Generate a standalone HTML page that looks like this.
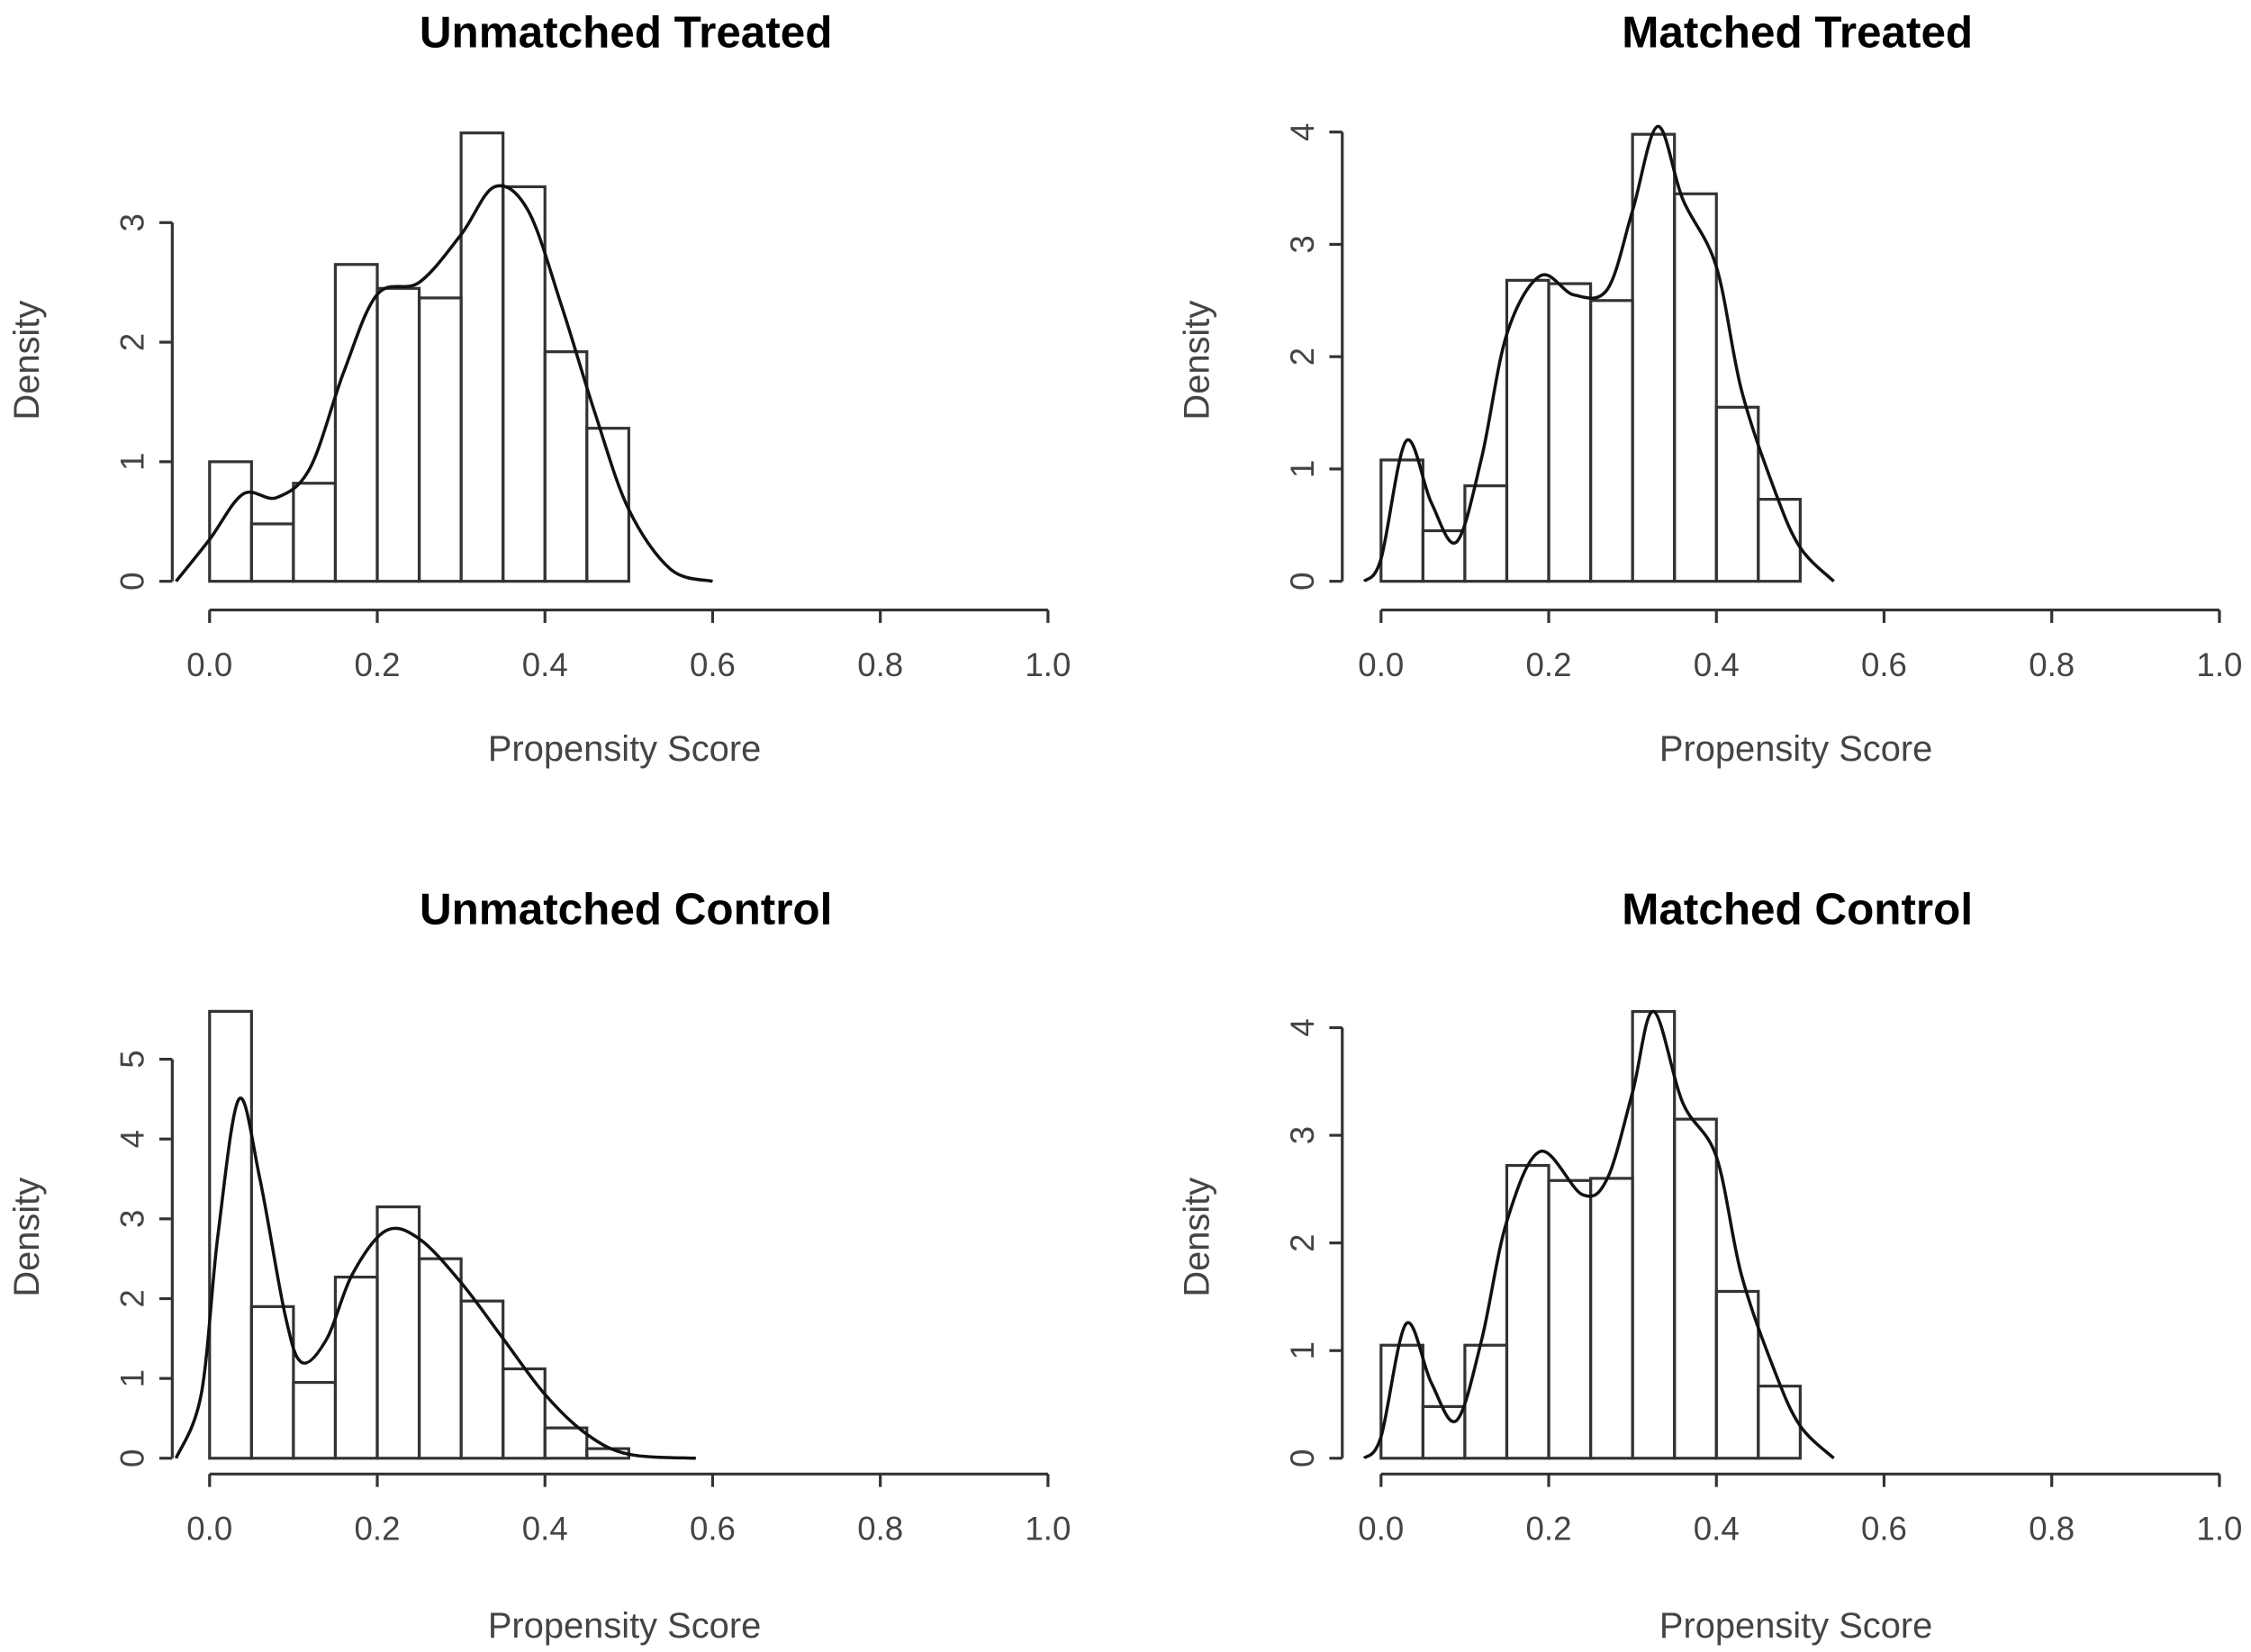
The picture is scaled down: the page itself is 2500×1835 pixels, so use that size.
<!DOCTYPE html>
<html><head><meta charset="utf-8"><style>
html,body{margin:0;padding:0;background:#fff;}
svg{display:block;}
text{font-family:"Liberation Sans",Arial,sans-serif;fill:#444;}
.t{font-weight:bold;fill:#000;font-size:31px;}
</style></head><body>
<svg id="s" width="2500" height="1835" viewBox="0 0 1568 1151" preserveAspectRatio="none" xmlns="http://www.w3.org/2000/svg"></svg>
<script>
const svg=document.getElementById('s');
let out='';
function panel(o){
 const X=v=>o.x0+v*584, Y=v=>o.y0-v*o.sy;
 const st='stroke="#333" stroke-width="2" fill="none"';
 out+=`<line x1="${X(0)}" y1="${o.ax}" x2="${X(1)}" y2="${o.ax}" ${st}/>`;
 for(let i=0;i<=5;i++){const v=i*0.2;out+=`<line x1="${X(v)}" y1="${o.ax}" x2="${X(v)}" y2="${o.ax+9}" ${st}/><text x="${X(v)}" y="${o.ax+46}" font-size="23" text-anchor="middle">${v.toFixed(1)}</text>`;}
 out+=`<line x1="${o.yx}" y1="${Y(0)}" x2="${o.yx}" y2="${Y(o.ym)}" ${st}/>`;
 for(let i=0;i<=o.ym;i++){out+=`<line x1="${o.yx}" y1="${Y(i)}" x2="${o.yx-9}" y2="${Y(i)}" ${st}/><text transform="translate(${o.yx-20},${Y(i)}) rotate(-90)" font-size="23" text-anchor="middle">${i}</text>`;}
 out+=`<text transform="translate(${o.yx-93},${o.dy}) rotate(-90)" font-size="25" text-anchor="middle">Density</text>`;
 out+=`<text x="${X(0.5)-3}" y="${o.ly}" font-size="25" text-anchor="middle">Propensity Score</text>`;
 out+=`<text class="t" x="${X(0.5)-2}" y="${o.ty}" text-anchor="middle">${o.title}</text>`;
 o.bars.forEach((h,i)=>{out+=`<rect x="${X(i*0.05)}" y="${Y(h)}" width="29.2" height="${h*o.sy}" ${st}/>`;});
 const p=o.c.map(a=>[X(a[0]),Y(a[1])]);
 let d=`M${p[0][0]},${p[0][1]}`;
 for(let i=0;i<p.length-1;i++){const p0=p[Math.max(0,i-1)],p1=p[i],p2=p[i+1],p3=p[Math.min(p.length-1,i+2)];
  d+=` C${p1[0]+(p2[0]-p0[0])/6},${p1[1]+(p2[1]-p0[1])/6} ${p2[0]-(p3[0]-p1[0])/6},${p2[1]-(p3[1]-p1[1])/6} ${p2[0]},${p2[1]}`;}
 out+=`<path d="${d}" stroke="#111" stroke-width="2.2" fill="none"/>`;
}
panel({x0:146,y0:405,sy:83.3,ax:425,yx:120,ym:3,ty:33,ly:530,dy:251,title:"Unmatched Treated",
 bars:[1.0,0.48,0.82,2.65,2.45,2.37,3.75,3.3,1.92,1.28],
 c:[[-0.04,0],[0,0.35],[0.04,0.73],[0.08,0.7],[0.12,0.95],[0.16,1.75],[0.2,2.4],[0.25,2.5],[0.3,2.9],[0.34,3.3],[0.38,3.1],[0.42,2.3],[0.46,1.4],[0.5,0.6],[0.55,0.1],[0.6,0]]});
panel({x0:962,y0:405,sy:78.25,ax:425,yx:935,ym:4,ty:33,ly:530,dy:251,title:"Matched Treated",
 bars:[1.08,0.45,0.85,2.68,2.65,2.5,3.98,3.45,1.55,0.73],
 c:[[-0.02,0],[0,0.2],[0.03,1.25],[0.06,0.7],[0.09,0.35],[0.12,1.1],[0.15,2.2],[0.19,2.72],[0.23,2.55],[0.27,2.6],[0.3,3.3],[0.33,4.05],[0.36,3.4],[0.4,2.8],[0.43,1.7],[0.47,0.8],[0.5,0.3],[0.54,0]]});
panel({x0:146,y0:1016,sy:55.6,ax:1027,yx:120,ym:5,ty:644,ly:1141,dy:862,title:"Unmatched Control",
 bars:[5.6,1.9,0.95,2.27,3.15,2.5,1.97,1.12,0.38,0.12],
 c:[[-0.04,0],[-0.01,0.8],[0.01,2.8],[0.035,4.5],[0.06,3.5],[0.09,1.8],[0.11,1.2],[0.14,1.5],[0.17,2.3],[0.21,2.85],[0.25,2.75],[0.3,2.2],[0.35,1.5],[0.4,0.8],[0.45,0.3],[0.5,0.05],[0.58,0]]});
panel({x0:962,y0:1016,sy:75,ax:1027,yx:935,ym:4,ty:644,ly:1141,dy:862,title:"Matched Control",
 bars:[1.05,0.48,1.05,2.72,2.58,2.6,4.15,3.15,1.55,0.67],
 c:[[-0.02,0],[0,0.2],[0.03,1.25],[0.06,0.7],[0.09,0.35],[0.12,1.1],[0.15,2.2],[0.19,2.85],[0.24,2.45],[0.27,2.6],[0.3,3.4],[0.325,4.15],[0.36,3.3],[0.4,2.8],[0.43,1.7],[0.47,0.8],[0.5,0.3],[0.54,0]]});
svg.innerHTML=out;
</script>
</body></html>
